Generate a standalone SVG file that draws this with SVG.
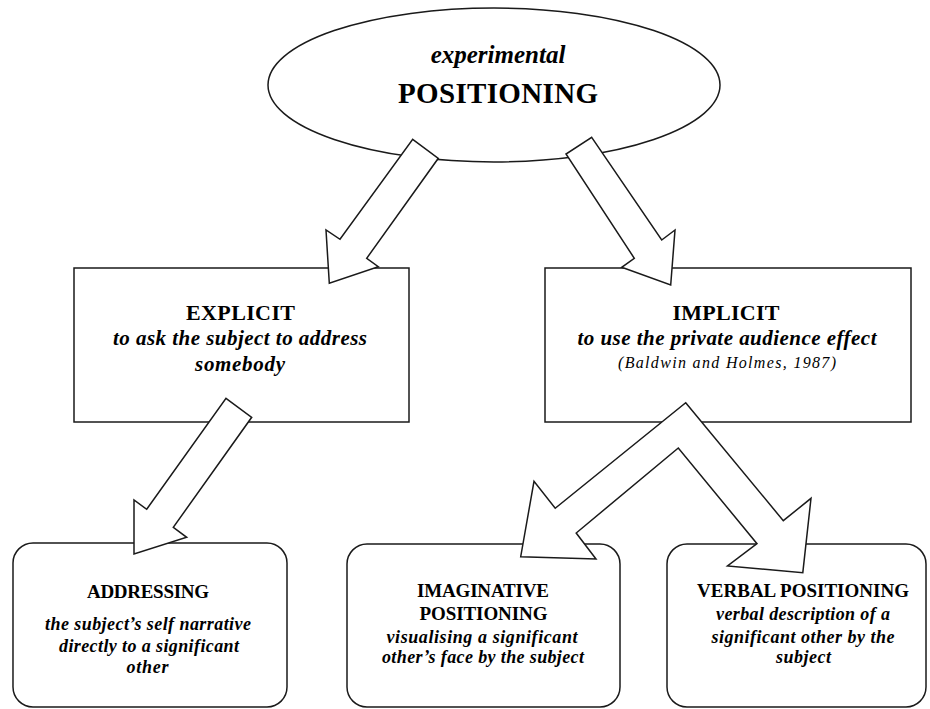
<svg xmlns="http://www.w3.org/2000/svg" width="930" height="709" viewBox="0 0 930 709">
<style>
.shape{fill:#fff;stroke:#1a1a1a;stroke-width:1.5}
.arrow{fill:#fff;stroke:#1a1a1a;stroke-width:1.5;stroke-linejoin:miter}
text{font-family:"Liberation Serif","Times New Roman",serif;fill:#000;text-anchor:middle}
.b{font-weight:bold}
.bi{font-weight:bold;font-style:italic}
.i{font-style:italic}
</style>
<rect width="930" height="709" fill="#fff"/>
<g id="node-positioning">
<ellipse class="shape" cx="494" cy="85" rx="226" ry="77"/>
<text class="bi" x="498" y="63" font-size="25">experimental</text>
<text class="b" x="498" y="103" font-size="29" textLength="200" lengthAdjust="spacing">POSITIONING</text>
</g>
<g id="node-explicit">
<rect class="shape" x="74" y="268" width="335" height="154"/>
<text class="b" x="240.5" y="320" font-size="22" textLength="109" lengthAdjust="spacing">EXPLICIT</text>
<text class="bi" x="240" y="345" font-size="21" textLength="254" lengthAdjust="spacing">to ask the subject to address</text>
<text class="bi" x="240" y="371" font-size="21" textLength="90" lengthAdjust="spacing">somebody</text>
</g>
<g id="node-implicit">
<rect class="shape" x="545" y="268" width="366" height="154"/>
<text class="b" x="726" y="320" font-size="22" textLength="107" lengthAdjust="spacing">IMPLICIT</text>
<text class="bi" x="727" y="345" font-size="21" textLength="299" lengthAdjust="spacing">to use the private audience effect</text>
<text class="i" x="727" y="368" font-size="16" textLength="218" lengthAdjust="spacing">(Baldwin and Holmes, 1987)</text>
</g>
<g id="node-addressing">
<rect class="shape" x="13" y="543" width="274" height="164" rx="20" ry="20"/>
<text class="b" x="148" y="598" font-size="19" textLength="122" lengthAdjust="spacing">ADDRESSING</text>
<text class="bi" x="148" y="630" font-size="18" textLength="206" lengthAdjust="spacing">the subject’s self narrative</text>
<text class="bi" x="149" y="652" font-size="18" textLength="180" lengthAdjust="spacing">directly to a significant</text>
<text class="bi" x="147.5" y="673" font-size="18" textLength="42" lengthAdjust="spacing">other</text>
</g>
<g id="node-imaginative">
<rect class="shape" x="347" y="544" width="273" height="163" rx="20" ry="20"/>
<text class="b" x="483" y="597" font-size="19" textLength="132" lengthAdjust="spacing">IMAGINATIVE</text>
<text class="b" x="483.5" y="620" font-size="19" textLength="128" lengthAdjust="spacing">POSITIONING</text>
<text class="bi" x="482" y="643" font-size="18" textLength="191" lengthAdjust="spacing">visualising a significant</text>
<text class="bi" x="483" y="663" font-size="18" textLength="202" lengthAdjust="spacing">other’s face by the subject</text>
</g>
<g id="node-verbal">
<rect class="shape" x="667" y="544" width="259" height="163" rx="20" ry="20"/>
<text class="b" x="803" y="597" font-size="19" textLength="212" lengthAdjust="spacing">VERBAL POSITIONING</text>
<text class="bi" x="803" y="620" font-size="18" textLength="174" lengthAdjust="spacing">verbal description of a</text>
<text class="bi" x="803" y="643" font-size="18" textLength="183" lengthAdjust="spacing">significant other by the</text>
<text class="bi" x="803.5" y="663" font-size="18" textLength="55" lengthAdjust="spacing">subject</text>
</g>
<g id="connectors">
<polygon id="arrow-positioning-explicit" class="arrow" points="412.7,139.3 438.3,158.3 366.7,258.3 378.3,266.7 329.3,283.3 326,230 340,239.3"/>
<polygon id="arrow-positioning-implicit" class="arrow" points="591.7,137.3 661.7,240 675,230 670.7,285 621.7,267.3 634.3,258.3 566,154"/>
<polygon id="arrow-explicit-addressing" class="arrow" points="226,398.3 251.7,417.3 173.3,527.3 186.7,537.3 134,554 134,500 146.7,509.3"/>
<polygon id="arrow-implicit-children" class="arrow" points="685.7,402.7 783.3,520.7 811,498.3 802.8,572.7 727.5,566 757,543.7 678.3,448 576.2,533 596,559 520.7,556.7 534,481.3 555.2,508.3"/>
</g>
</svg>
